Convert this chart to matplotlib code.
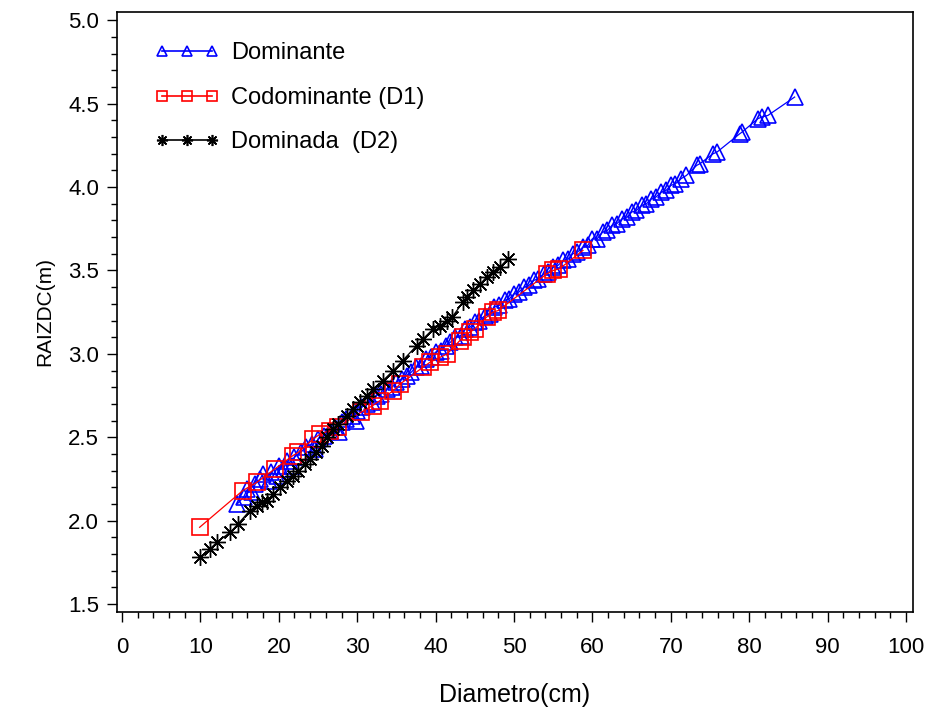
import matplotlib
matplotlib.use("Agg")
import matplotlib.pyplot as plt
from matplotlib.ticker import MultipleLocator, FormatStrFormatter
from matplotlib.lines import Line2D

# ---- data ----
dom_x = [14.7, 15.5, 16.0, 16.6, 17.0, 17.6, 18.0, 18.7, 19.0, 19.8, 20.0, 20.6, 21.0, 21.7,
         22.0, 22.8, 23.5, 24.2, 24.6, 25.0, 25.8, 26.5, 27.2, 27.7, 28.0, 28.6, 29.3, 29.8,
         30.0, 30.6, 31.2, 31.9, 32.5, 33.1, 33.8, 34.4, 35.0, 35.7, 36.3, 36.9, 37.5, 38.2,
         38.8, 39.4, 40.0, 40.7, 41.3, 41.9, 42.5, 43.2, 43.8, 44.4, 45.0, 45.6, 46.3, 46.9,
         47.5, 48.1, 48.8, 49.4, 50.0, 50.6, 51.3, 51.9, 52.5, 53.1, 53.8, 54.4, 55.0, 55.6,
         56.3, 56.9, 57.5, 58.1, 58.8, 59.4, 60.0, 60.6, 61.3, 61.9, 62.5, 63.1, 63.8, 64.4,
         65.0, 65.6, 66.3, 66.9, 67.5, 68.1, 68.8, 69.4, 70.0, 70.6, 71.3, 72.0, 73.3, 73.7,
         75.4, 75.9, 78.8, 79.1, 81.1, 81.6, 82.4, 85.8]
dom_y = [2.10, 2.14, 2.19, 2.17, 2.22, 2.25, 2.28, 2.24, 2.29, 2.27, 2.33, 2.31, 2.36, 2.33,
         2.38, 2.41, 2.44, 2.46, 2.43, 2.49, 2.51, 2.54, 2.56, 2.53, 2.59, 2.61, 2.63, 2.60,
         2.66, 2.68, 2.70, 2.71, 2.75, 2.76, 2.79, 2.80, 2.83, 2.85, 2.87, 2.89, 2.92, 2.93,
         2.97, 2.98, 3.01, 3.02, 3.05, 3.07, 3.10, 3.11, 3.15, 3.16, 3.19, 3.20, 3.23, 3.24,
         3.28, 3.29, 3.32, 3.33, 3.36, 3.37, 3.40, 3.41, 3.44, 3.45, 3.48, 3.49, 3.52, 3.53,
         3.56, 3.57, 3.60, 3.61, 3.64, 3.65, 3.69, 3.69, 3.73, 3.74, 3.77, 3.78, 3.81, 3.82,
         3.85, 3.86, 3.89, 3.90, 3.93, 3.94, 3.97, 3.98, 4.01, 4.02, 4.05, 4.07, 4.13, 4.14,
         4.20, 4.21, 4.32, 4.33, 4.41, 4.42, 4.43, 4.54]

cod_x = [9.9, 15.4, 17.2, 19.5, 21.8, 22.5, 24.4, 25.3, 26.5, 27.5, 30.5, 32.0, 32.9, 34.6,
         35.5, 38.4, 39.3, 40.6, 41.5, 43.1, 43.5, 44.4, 45.0, 46.5, 47.3, 48.0, 54.2, 55.0,
         55.8, 58.8]
cod_y = [1.96, 2.18, 2.23, 2.31, 2.39, 2.41, 2.49, 2.52, 2.54, 2.56, 2.65, 2.69, 2.72, 2.78,
         2.82, 2.92, 2.95, 2.98, 3.00, 3.08, 3.10, 3.13, 3.15, 3.22, 3.25, 3.26, 3.48, 3.50,
         3.51, 3.62]

dmd_x = [10.0, 11.2, 12.1, 13.8, 14.8, 16.3, 17.2, 17.8, 18.5, 19.3, 20.2, 21.0, 21.8, 22.5,
         23.3, 24.0, 24.8, 25.5, 26.1, 26.9, 27.5, 28.7, 29.5, 30.4, 31.3, 32.0, 33.3, 34.6,
         35.8, 37.6, 38.4, 39.7, 40.6, 41.5, 42.1, 43.5, 44.0, 44.8, 45.7, 46.5, 47.3, 48.2,
         49.2]
dmd_y = [1.78, 1.83, 1.87, 1.93, 1.98, 2.06, 2.09, 2.11, 2.12, 2.16, 2.20, 2.24, 2.27, 2.30,
         2.34, 2.37, 2.41, 2.45, 2.50, 2.55, 2.58, 2.63, 2.67, 2.71, 2.75, 2.79, 2.84, 2.90,
         2.96, 3.05, 3.09, 3.15, 3.17, 3.20, 3.22, 3.31, 3.34, 3.38, 3.42, 3.46, 3.49, 3.52,
         3.57]

labels = ["Dominante", "Codominante (D1)", "Dominada  (D2)"]

plt.rcParams['font.family'] = ['Liberation Sans', 'DejaVu Sans']

fig = plt.figure(figsize=(9.25, 7.13), dpi=100)
ax = fig.add_axes([117/925, 101/713, (913-117)/925, (612-12)/713])

star = (8, 2, 0)
ax.plot(dom_x, dom_y, color='#0000ff', lw=0.9, marker='^', ms=11, mfc='none',
        mec='#0000ff', mew=1.2, label=labels[0], zorder=2)
ax.plot(cod_x, cod_y, color='#ff0000', lw=0.9, marker='s', ms=11, mfc='none',
        mec='#ff0000', mew=1.2, label=labels[1], zorder=3)
ax.plot(dmd_x, dmd_y, color='black', lw=0.9, marker=star, ms=12, mfc='none',
        mec='black', mew=1.0, label=labels[2], zorder=4)

ax.set_xlim(-0.64, 100.9)
ax.set_ylim(1.452, 5.05)
ax.xaxis.set_major_locator(MultipleLocator(10))
ax.xaxis.set_minor_locator(MultipleLocator(2))
ax.yaxis.set_major_locator(MultipleLocator(0.5))
ax.yaxis.set_minor_locator(MultipleLocator(0.1))
ax.yaxis.set_major_formatter(FormatStrFormatter('%.1f'))
ax.tick_params(which='major', direction='out', length=7, width=1.0, labelsize=16, pad=6)
ax.tick_params(which='minor', direction='out', length=4, width=1.0)
ax.tick_params(axis='x', pad=11)
for s in ax.spines.values():
    s.set_linewidth(1.2)

ax.set_xlabel("Diametro(cm)", fontsize=18, labelpad=18)
ax.set_ylabel("RAIZDC(m)", fontsize=15, labelpad=10)

handles = [
    Line2D([], [], color='#0000ff', lw=1.2, marker='^', ms=7, mfc='none', mec='#0000ff', mew=1.2),
    Line2D([], [], color='#ff0000', lw=1.2, marker='s', ms=7, mfc='none', mec='#ff0000', mew=1.2),
    Line2D([], [], color='black', lw=1.2, marker=star, ms=8, mfc='none', mec='black', mew=1.2),
]
leg = ax.legend(handles, labels, loc='upper left', bbox_to_anchor=(0.036, 0.965),
                frameon=False, numpoints=3, handlelength=2.7, handletextpad=0.5,
                labelspacing=0.95, fontsize=17, borderaxespad=0)

fig.savefig("out.png", dpi=100)
